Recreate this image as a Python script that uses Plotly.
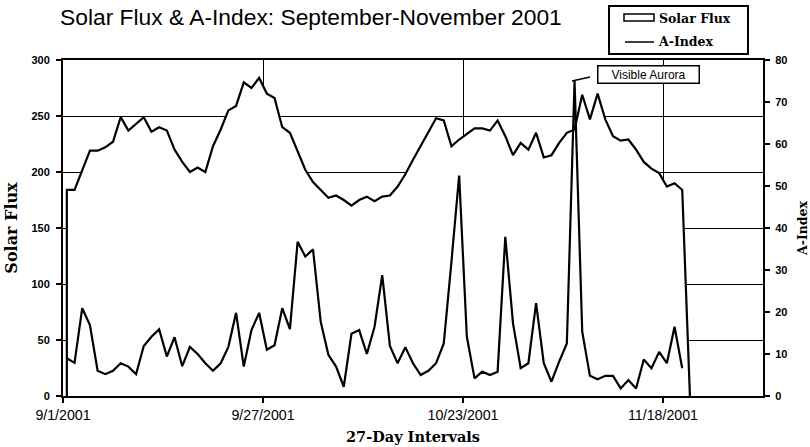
import pandas as pd
import plotly.graph_objects as go

# ---------------- data ----------------
START_DATE = "2001-09-01 12:00"          # daily values, centred on each day
X_TICK_START = "2001-09-01"
X_TICK_DAYS = 26
X_END = "2001-12-01"

SOLAR_FLUX = [184, 184, 201, 219, 219, 222, 227, 249, 237, 243, 249, 236, 240, 237, 220, 209, 200, 204, 200, 223,
              238, 255, 259, 280, 275, 284, 270, 266, 240, 235, 218, 202, 191, 184, 177, 179, 175, 170, 175, 178,
              174, 178, 179, 187, 198, 211, 223, 236, 248, 246, 223, 229, 234, 239, 239, 237, 246, 232, 215, 226,
              220, 235, 213, 215, 226, 235, 238, 269, 247, 270, 247, 232, 228, 229, 220, 209, 203, 199, 187, 190,
              184, 0]

A_INDEX = [9.0, 7.9, 20.9, 16.9, 6.0, 5.2, 6.0, 7.8, 7.0, 5.2, 11.9, 14.1, 15.9, 9.4, 14.0, 7.1, 11.7, 10.0, 7.8, 6.0,
           7.8, 11.7, 19.8, 7.0, 15.7, 19.8, 11.0, 12.1, 20.9, 15.9, 36.7, 33.2, 34.9, 17.7, 9.8, 7.0, 2.2, 14.8, 15.7, 10.0,
           16.5, 28.8, 11.9, 7.8, 11.6, 7.8, 5.0, 6.0, 7.8, 12.5, 32.0, 52.5, 14.1, 4.2, 5.8, 5.0, 5.8, 37.9, 17.3, 6.6,
           7.8, 22.1, 7.8, 3.4, 8.2, 12.5, 75.0, 15.3, 4.8, 4.0, 4.8, 4.8, 1.8, 3.8, 1.8, 8.7, 6.6, 10.5, 7.8, 16.5,
           6.6]

FLUX_RANGE = [0, 300]
FLUX_STEP = 50
AINDEX_RANGE = [0, 80]
AINDEX_STEP = 10

TITLE = "Solar Flux & A-Index: September-November 2001"
SERIES_NAMES = ["Solar Flux", "A-Index"]
X_TITLE = "27-Day Intervals"
AURORA_LABEL = "Visible Aurora"

dates = pd.date_range(START_DATE, periods=len(SOLAR_FLUX), freq="D")

# ---------------- layout helpers (pixels -> paper) ----------------
W_FIG, H_FIG = 810, 447
L, T, R, B = 63, 60, 47, 51
PW, PH = W_FIG - L - R, H_FIG - T - B


def px(x):
    return (x - L) / PW


def py(y):
    return (T + PH - y) / PH


BLACK = "#000000"
SERIF_B = dict(family="DejaVu Serif", color=BLACK, weight="bold")

fig = go.Figure()

# Solar flux: white area with black outline (closed down to the baseline at the start)
area_x = [dates[0]] + list(dates)
area_y = [0] + SOLAR_FLUX
fig.add_trace(go.Scatter(
    x=area_x, y=area_y, name=SERIES_NAMES[0], mode="lines",
    line=dict(color=BLACK, width=2.2), fill="tozeroy", fillcolor="white",
    showlegend=False, hoverinfo="skip", yaxis="y"))

fig.add_trace(go.Scatter(
    x=dates[:len(A_INDEX)], y=A_INDEX, name=SERIES_NAMES[1], mode="lines",
    line=dict(color=BLACK, width=2.2), showlegend=False, yaxis="y2"))

shapes = [
    # legend frame
    dict(type="rect", xref="paper", yref="paper", x0=px(609), x1=px(748), y0=py(54), y1=py(6),
         line=dict(color=BLACK, width=2), fillcolor="white", layer="above"),
    dict(type="rect", xref="paper", yref="paper", x0=px(624), x1=px(654), y0=py(21), y1=py(14),
         line=dict(color=BLACK, width=1.5), fillcolor="white", layer="above"),
    dict(type="line", xref="paper", yref="paper", x0=px(625), x1=px(654), y0=py(42), y1=py(42),
         line=dict(color=BLACK, width=1.5), layer="above"),
    # aurora leader line
    dict(type="line", xref="paper", yref="paper", x0=px(572), x1=px(590), y0=py(81), y1=py(77),
         line=dict(color=BLACK, width=1.5), layer="above"),
]

annotations = [
    dict(text=SERIES_NAMES[0], xref="paper", yref="paper", x=px(657), y=py(18), xanchor="left",
         yanchor="middle", showarrow=False, font=dict(size=12.5, **SERIF_B)),
    dict(text=SERIES_NAMES[1], xref="paper", yref="paper", x=px(656), y=py(42), xanchor="left",
         yanchor="middle", showarrow=False, font=dict(size=12.5, **SERIF_B)),
    dict(text=AURORA_LABEL, xref="paper", yref="paper", x=px(648.5), y=py(74.7), xanchor="center",
         yanchor="middle", showarrow=False, bgcolor="white", bordercolor=BLACK, borderwidth=1.5,
         borderpad=1, width=98, height=14, font=dict(family="Liberation Sans", size=12, color=BLACK)),
]

tick_common = dict(tickcolor=BLACK, tickwidth=1.5, ticklen=5)

fig.update_layout(
    width=W_FIG, height=H_FIG,
    margin=dict(l=L, r=R, t=T, b=B, autoexpand=False),
    paper_bgcolor="white", plot_bgcolor="white",
    showlegend=False,
    title=dict(text=TITLE, x=60 / W_FIG, xref="container", xanchor="left", y=1 - 17 / H_FIG,
               yref="container", yanchor="middle",
               font=dict(family="Liberation Sans", size=22.8, color=BLACK)),
    xaxis=dict(
        type="date", range=[X_TICK_START, X_END], tick0=X_TICK_START, dtick=X_TICK_DAYS * 86400000,
        tickformat="%-m/%-d/%Y", ticks="outside", **tick_common,
        showgrid=True, gridcolor=BLACK, gridwidth=1.4, showline=True, linecolor=BLACK, linewidth=2,
        mirror=True, zeroline=False, automargin=False,
        tickfont=dict(family="Liberation Sans", size=14.2, color=BLACK),
        title=dict(text=X_TITLE, standoff=10, font=dict(size=14.5, **SERIF_B)),
    ),
    yaxis=dict(
        range=FLUX_RANGE, dtick=FLUX_STEP, ticks="outside", **tick_common,
        showgrid=True, gridcolor=BLACK, gridwidth=1.4, showline=True, linecolor=BLACK, linewidth=2,
        zeroline=False, automargin=False, ticklabelstandoff=4,
        tickfont=dict(family="Liberation Sans", size=11, color=BLACK, weight="bold"),
        title=dict(text=SERIES_NAMES[0], standoff=10, font=dict(size=16, **SERIF_B)),
    ),
    yaxis2=dict(
        range=AINDEX_RANGE, dtick=AINDEX_STEP, overlaying="y", side="right", ticks="outside",
        **tick_common, showgrid=False, showline=True, linecolor=BLACK, linewidth=2, zeroline=False,
        automargin=False, ticklabelstandoff=3,
        tickfont=dict(family="Liberation Sans", size=11, color=BLACK, weight="bold"),
        title=dict(text=SERIES_NAMES[1], standoff=12, font=dict(size=12.5, **SERIF_B)),
    ),
    shapes=shapes,
    annotations=annotations,
)

fig.write_html("out.html", config={"displayModeBar": False},
               post_script="document.body.style.margin='0';")
